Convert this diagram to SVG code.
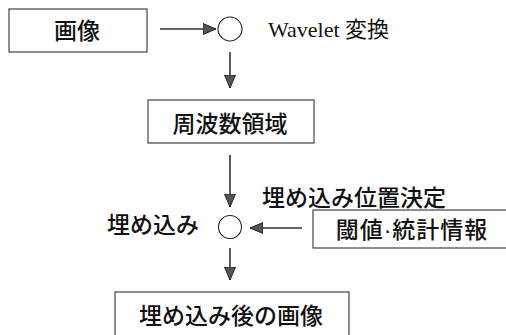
<svg xmlns="http://www.w3.org/2000/svg" width="506" height="335" viewBox="0 0 506 335">
<style>
.box{fill:#fff;stroke:#444;stroke-width:1.2}
.node-c{fill:#fff;stroke:#222;stroke-width:1.1}
.t{font-family:"Noto Sans CJK JP","Liberation Sans",sans-serif;font-size:23px;font-weight:500;fill:#111}
.ts{font-family:"Liberation Serif","Noto Sans CJK JP",serif;font-size:22px;fill:#111}
.c{text-anchor:middle}
.conn{stroke:#333;stroke-width:1.6;fill:none;marker-end:url(#ah)}
</style>
<defs>
<marker id="ah" markerUnits="userSpaceOnUse" markerWidth="14" markerHeight="12" viewBox="0 0 14 12" refX="13" refY="6" orient="auto">
<path d="M0,0.5 L13,6 L0,11.5 Z" fill="#555" stroke="#222" stroke-width="1"/>
</marker>
</defs>
<g id="connectors">
<line class="conn" x1="160" y1="29" x2="216" y2="29"/>
<line class="conn" x1="230" y1="52" x2="230" y2="88"/>
<line class="conn" x1="230" y1="155" x2="230" y2="207"/>
<line class="conn" x1="302" y1="228" x2="250" y2="228"/>
<line class="conn" x1="230" y1="248" x2="230" y2="280"/>
</g>
<g id="image">
<rect class="box" x="9" y="9" width="138" height="43"/>
<text class="t c" x="77" y="39">画像</text>
</g>
<g id="wavelet">
<circle class="node-c" cx="230" cy="29" r="12"/>
<text class="ts" x="268" y="37">Wavelet 変換</text>
</g>
<g id="freq">
<rect class="box" x="148" y="100" width="166" height="43"/>
<text class="t c" x="230" y="132">周波数領域</text>
</g>
<g id="embed">
<circle class="node-c" cx="230" cy="227" r="11.5"/>
<text class="t" x="107" y="233">埋め込み</text>
<text class="t" x="262" y="206">埋め込み位置決定</text>
</g>
<g id="threshold">
<rect class="box" x="313" y="210" width="200" height="38"/>
<text class="t c" x="412" y="238" style="font-family:'Liberation Sans','Noto Sans CJK JP',sans-serif;letter-spacing:1px">閾値·統計情報</text>
</g>
<g id="result">
<rect class="box" x="115" y="292" width="234" height="60"/>
<text class="t c" x="231" y="324">埋め込み後の画像</text>
</g>
</svg>
